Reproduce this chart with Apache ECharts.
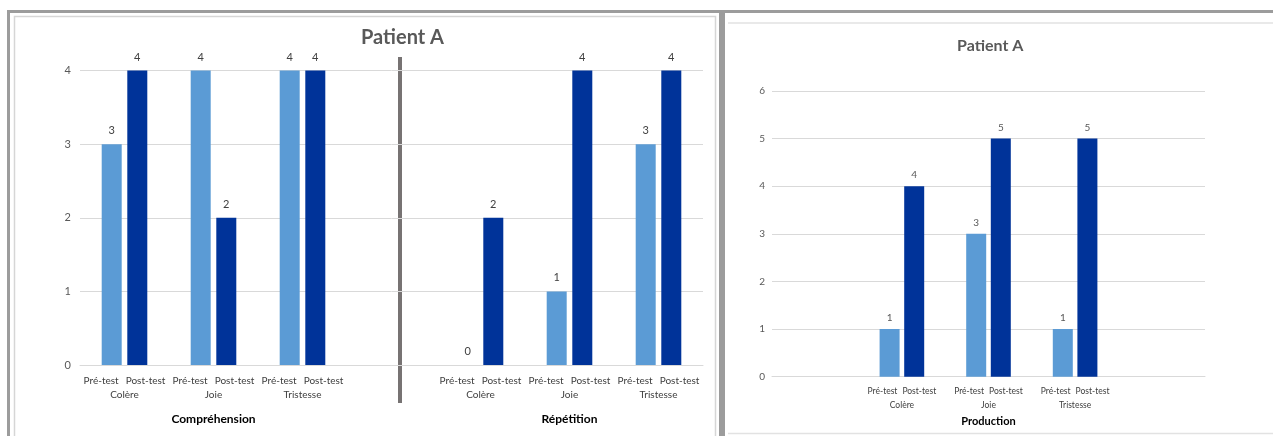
<!DOCTYPE html>
<html>
<head>
<meta charset="utf-8">
<title>Patient A</title>
<script src="https://cdn.jsdelivr.net/npm/echarts@6/dist/echarts.min.js"></script>
<style>
  html, body { margin: 0; padding: 0; background: #ffffff; }
  #chart { width: 1273px; height: 436px; }
</style>
</head>
<body>
<div id="chart"></div>
<script>
// Scores per emotion, before and after therapy
const emotions = ['Colère', 'Joie', 'Tristesse'];
const phases = ['Pré-test', 'Post-test'];
const sections = ['Compréhension', 'Répétition'];
const productionName = 'Production';
const chartTitle = 'Patient A';

const comprehensionPre = [3, 4, 4];
const comprehensionPost = [4, 2, 4];
const repetitionPre = [0, 1, 3];
const repetitionPost = [2, 4, 4];
const productionPre = [1, 3, 1];
const productionPost = [4, 5, 5];

const leftTicks = [0, 1, 2, 3, 4];
const rightTicks = [0, 1, 2, 3, 4, 5, 6];

const LIGHT = '#5b9bd5';
const DARK = '#003399';
const FONT = 'Lato';
const EMPTY = '-';

// Left panel: Compréhension block, an empty slot, then Répétition block
const leftGroups = [...emotions, '', ...emotions];
const leftPre = [...comprehensionPre, EMPTY, ...repetitionPre];
const leftPost = [...comprehensionPost, EMPTY, ...repetitionPost];
const sectionSlots = ['', sections[0], '', '', '', sections[1], ''];

// Right panel: three emotions with empty slots on each side
const rightGroups = ['', ...emotions, ''];
const rightPre = [EMPTY, ...productionPre, EMPTY];
const rightPost = [EMPTY, ...productionPost, EMPTY];

function groupLabel(name) {
  if (!name) return '';
  return '{ph|' + phases[0] + '}{ph|' + phases[1] + '}\n{em|' + name + '}';
}

function groupRich(size, pad) {
  return {
    ph: { fontFamily: FONT, fontSize: size, color: '#404040', lineHeight: 14, padding: [0, pad] },
    em: { fontFamily: FONT, fontSize: size, color: '#404040', lineHeight: 14 }
  };
}

const chart = echarts.init(document.getElementById('chart'), null, { renderer: 'canvas' });

const option = {
  backgroundColor: '#ffffff',
  animation: false,
  title: [
    {
      text: chartTitle,
      left: 361, top: 28,
      padding: 0,
      textStyle: { fontFamily: FONT, fontWeight: 'bold', fontSize: 20, color: '#595959' }
    },
    {
      text: chartTitle,
      left: 957, top: 38,
      padding: 0,
      textStyle: { fontFamily: FONT, fontWeight: 'bold', fontSize: 16, color: '#595959' }
    }
  ],
  grid: [
    { left: 80, right: 570, top: 70.5, bottom: 71, containLabel: false },
    { left: 772, right: 68, top: 91, bottom: 59.3, containLabel: false }
  ],
  xAxis: [
    {
      type: 'category', gridIndex: 0, position: 'bottom',
      data: leftGroups,
      axisLine: { show: true, lineStyle: { color: '#d9d9d9', width: 1 } },
      axisTick: { show: false },
      axisLabel: {
        interval: 0, margin: 9,
        formatter: groupLabel,
        rich: groupRich(10, 3.5)
      }
    },
    {
      type: 'category', gridIndex: 0, position: 'bottom',
      data: sectionSlots,
      axisLine: { show: false },
      axisTick: { show: false },
      splitLine: { show: false },
      axisLabel: {
        interval: 0, margin: 47,
        fontFamily: FONT, fontSize: 12, fontWeight: 'bold', color: '#000000', lineHeight: 14
      }
    },
    {
      type: 'category', gridIndex: 1, position: 'bottom',
      data: rightGroups,
      name: productionName,
      nameLocation: 'middle',
      nameGap: 39,
      nameTextStyle: { fontFamily: FONT, fontSize: 11, fontWeight: 'bold', color: '#000000' },
      axisLine: { show: true, lineStyle: { color: '#d9d9d9', width: 1 } },
      axisTick: { show: false },
      axisLabel: {
        interval: 0, margin: 8,
        formatter: groupLabel,
        rich: groupRich(8.5, 2.5)
      }
    }
  ],
  yAxis: [
    {
      type: 'value', gridIndex: 0,
      min: leftTicks[0], max: leftTicks[leftTicks.length - 1], interval: 1,
      axisLine: { show: false }, axisTick: { show: false },
      splitLine: { lineStyle: { color: '#d9d9d9', width: 1 } },
      axisLabel: { margin: 9, fontFamily: FONT, fontSize: 11, color: '#595959' }
    },
    {
      type: 'value', gridIndex: 1,
      min: rightTicks[0], max: rightTicks[rightTicks.length - 1], interval: 1,
      axisLine: { show: false }, axisTick: { show: false },
      splitLine: { lineStyle: { color: '#d9d9d9', width: 1 } },
      axisLabel: { margin: 7, fontFamily: FONT, fontSize: 10, color: '#595959' }
    }
  ],
  series: [
    {
      name: phases[0], type: 'bar', xAxisIndex: 0, yAxisIndex: 0,
      data: leftPre, barWidth: 20, barGap: '28%',
      itemStyle: { color: LIGHT },
      label: { show: true, position: 'top', distance: 8, fontFamily: FONT, fontSize: 11, color: '#404040' }
    },
    {
      name: phases[1], type: 'bar', xAxisIndex: 0, yAxisIndex: 0,
      data: leftPost, barWidth: 20, barGap: '28%',
      itemStyle: { color: DARK },
      label: { show: true, position: 'top', distance: 8, fontFamily: FONT, fontSize: 11, color: '#404040' }
    },
    {
      name: phases[0], type: 'bar', xAxisIndex: 2, yAxisIndex: 1,
      data: rightPre, barWidth: 20, barGap: '23%',
      itemStyle: { color: LIGHT },
      label: { show: true, position: 'top', distance: 6, fontFamily: FONT, fontSize: 10, color: '#595959' }
    },
    {
      name: phases[1], type: 'bar', xAxisIndex: 2, yAxisIndex: 1,
      data: rightPost, barWidth: 20, barGap: '23%',
      itemStyle: { color: DARK },
      label: { show: true, position: 'top', distance: 6, fontFamily: FONT, fontSize: 10, color: '#595959' }
    }
  ],
  graphic: [
    // outer frame strips
    { type: 'rect', silent: true, shape: { x: 7, y: 10, width: 1266, height: 3 }, style: { fill: '#9c9c9c' } },
    { type: 'rect', silent: true, shape: { x: 7, y: 10, width: 3, height: 426 }, style: { fill: '#9c9c9c' } },
    { type: 'rect', silent: true, shape: { x: 719, y: 10, width: 6, height: 426 }, style: { fill: '#9c9c9c' } },
    // left panel inner border
    { type: 'polyline', silent: true, shape: { points: [[14.5, 436], [14.5, 16.5], [715.5, 16.5], [715.5, 436]] },
      style: { stroke: '#d6d6d6', lineWidth: 1.5, fill: null } },
    // right panel top and bottom rules
    { type: 'line', silent: true, shape: { x1: 728, y1: 23, x2: 1273, y2: 23 }, style: { stroke: '#e2e2e2', lineWidth: 1.5 } },
    { type: 'line', silent: true, shape: { x1: 728, y1: 433.5, x2: 1273, y2: 433.5 }, style: { stroke: '#e2e2e2', lineWidth: 1.5 } },
    // divider between the Compréhension and Répétition blocks
    { type: 'line', silent: true, shape: { x1: 400, y1: 57, x2: 400, y2: 403 }, style: { stroke: '#777373', lineWidth: 4 } }
  ]
};

chart.setOption(option);
</script>
</body>
</html>
